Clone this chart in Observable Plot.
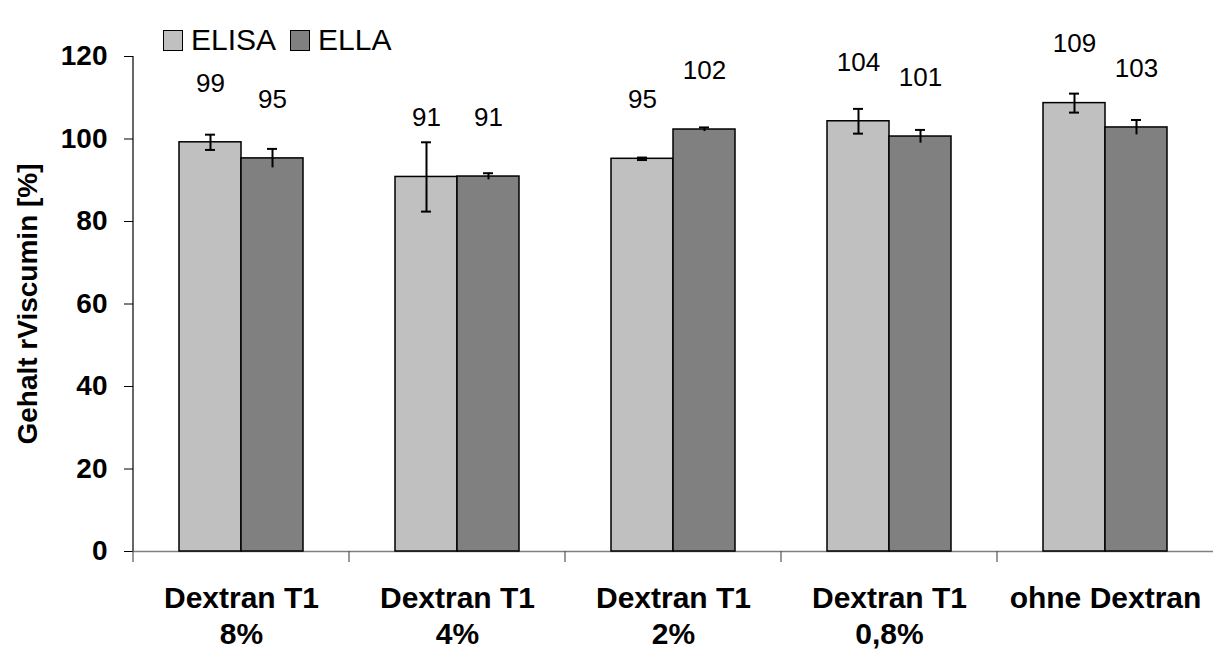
<!DOCTYPE html>
<html><head><meta charset="utf-8">
<script src="https://cdn.jsdelivr.net/npm/d3@7"></script>
<script src="https://cdn.jsdelivr.net/npm/@observablehq/plot@0.6"></script>
<style>
body{margin:0;background:#fff;}
#wrap{position:relative;width:1214px;height:651px;font-family:"Liberation Sans",Arial,sans-serif;}
#legend{position:absolute;left:163px;top:23px;display:flex;align-items:center;font-size:30px;line-height:34px;color:#000;}
#legend .item{display:flex;align-items:center;margin-right:14px;}
#legend .sw{width:18px;height:19px;border:1.5px solid #000;margin-right:8px;}
</style></head><body><div id="wrap"><div id="legend"></div></div>
<script>
const categories = ["Dextran T1\n8%", "Dextran T1\n4%", "Dextran T1\n2%", "Dextran T1\n0,8%", "ohne Dextran"];
const series = ["ELISA", "ELLA"];
const elisa = [99.2, 90.8, 95.2, 104.3, 108.7];
const elisaErr = [1.85, 8.4, 0.3, 3.0, 2.3];
const ella = [95.3, 90.9, 102.3, 100.6, 102.8];
const ellaErr = [2.3, 0.8, 0.5, 1.6, 1.8];
const colors = ["#c0c0c0", "#808080"];
const yTicks = [0, 20, 40, 60, 80, 100, 120];
const yLabel = "Gehalt rViscumin [%]";

const rows = [];
categories.forEach((c, i) => {
  rows.push({cat: c, s: series[0], v: elisa[i], e: elisaErr[i]});
  rows.push({cat: c, s: series[1], v: ella[i], e: ellaErr[i]});
});

const chart = Plot.plot({
  width: 1214, height: 651,
  marginTop: 56, marginBottom: 100, marginLeft: 131, marginRight: 0,
  style: {fontFamily: "Liberation Sans, Arial, sans-serif", background: "#fff", color: "#000"},
  fx: {domain: categories, padding: 0, axis: null},
  x: {domain: series, paddingInner: 0, paddingOuter: 0.738, axis: null},
  y: {domain: [0, 120], axis: null},
  color: {domain: series, range: colors},
  marks: [
    Plot.ruleY([0], {stroke: "#808080", strokeWidth: 1.5}),
    Plot.barY(rows, {fx: "cat", x: "s", y: "v", fill: "s", stroke: "#000", strokeWidth: 1.5}),
    Plot.ruleX(rows, {fx: "cat", x: "s", y1: d => d.v - d.e, y2: d => d.v + d.e, stroke: "#000", strokeWidth: 2}),
    Plot.tickY(rows, {fx: "cat", x: "s", y: d => d.v + d.e, stroke: "#000", strokeWidth: 2, insetLeft: 26, insetRight: 26}),
    Plot.tickY(rows.filter(d => d.s === series[0]), {fx: "cat", x: "s", y: d => d.v - d.e, stroke: "#000", strokeWidth: 2, insetLeft: 26, insetRight: 26}),
    Plot.text(rows, {fx: "cat", x: "s", y: "v", text: d => String(Math.round(d.v)), fontSize: 26, lineAnchor: "middle", dy: -59, fill: "#000"}),
    Plot.axisY({ticks: yTicks, tickSize: 9, tickPadding: 17, fontSize: 28, fontWeight: "bold",
      label: yLabel, labelAnchor: "center", labelArrow: "none", labelOffset: 116}),
    Plot.axisFx({anchor: "bottom", tickSize: 0, tickPadding: 31, fontSize: 30, fontWeight: "bold", lineHeight: 1.2, tickFormat: d => d, label: null})
  ]
});

document.getElementById("wrap").appendChild(chart);

// axis line and category boundary ticks, from the library's scales
const ys = chart.scale("y"), fxs = chart.scale("fx");
const svg = d3.select(chart);
const y0 = ys.apply(0), yTop = ys.apply(yTicks[yTicks.length - 1]);
const left = fxs.apply(categories[0]);
svg.append("line").attr("x1", left).attr("x2", left).attr("y1", y0).attr("y2", yTop)
  .attr("stroke", "#000").attr("stroke-width", 1.2);
categories.forEach(c => {
  const xb = fxs.apply(c);
  svg.append("line").attr("x1", xb).attr("x2", xb).attr("y1", y0).attr("y2", y0 + 11)
    .attr("stroke", "#555").attr("stroke-width", 1.2);
});

// legend
const leg = d3.select("#legend");
series.forEach((s, i) => {
  const it = leg.append("div").attr("class", "item");
  it.append("div").attr("class", "sw").style("background", colors[i]);
  it.append("span").text(s);
});
</script>
</body></html>
